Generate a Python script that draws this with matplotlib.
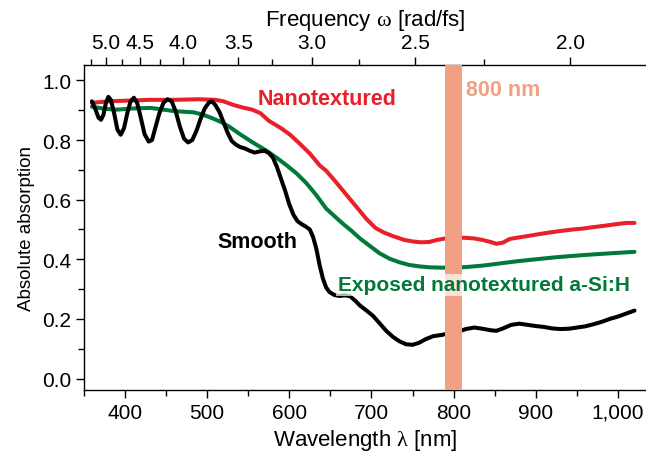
import numpy as np
import matplotlib
matplotlib.use("Agg")
import matplotlib.pyplot as plt

plt.rcParams['font.family'] = ['Liberation Sans', 'DejaVu Sans']
plt.rcParams['mathtext.fontset'] = 'custom'
plt.rcParams['mathtext.rm'] = 'Liberation Serif'

# Smooth a-Si:H (black)
smooth_wl = [360, 364, 368, 371, 374, 377, 380, 383, 387, 391, 395, 399, 403, 407, 411, 415,
             419, 424, 429, 433, 437, 442, 447, 452, 457, 462, 467, 472, 477, 482, 487, 492,
             497, 502, 506, 510, 515, 520, 525, 530, 535, 540, 546, 552, 558, 564, 570, 575,
             580, 585, 590, 595, 600, 605, 610, 615, 620, 625, 629, 633, 637, 641, 645, 649,
             655, 661, 668, 674, 680, 686, 694, 702, 710, 718, 726, 734, 742, 750, 758, 766,
             775, 785, 795, 805, 815, 825, 835, 845, 852, 860, 870, 880, 890, 900, 910, 920,
             930, 940, 950, 960, 970, 980, 990, 1000, 1010, 1020]
smooth_abs = [0.93, 0.905, 0.875, 0.868, 0.885, 0.925, 0.945, 0.935, 0.89, 0.835, 0.818, 0.84,
              0.89, 0.93, 0.942, 0.925, 0.88, 0.82, 0.795, 0.80, 0.84, 0.89, 0.925, 0.937,
              0.93, 0.895, 0.845, 0.805, 0.792, 0.80, 0.83, 0.87, 0.905, 0.925, 0.93, 0.918,
              0.895, 0.86, 0.825, 0.797, 0.785, 0.777, 0.772, 0.764, 0.758, 0.762, 0.764, 0.757,
              0.742, 0.71, 0.67, 0.63, 0.585, 0.55, 0.528, 0.518, 0.51, 0.50, 0.475, 0.435,
              0.38, 0.335, 0.305, 0.29, 0.28, 0.277, 0.279, 0.276, 0.262, 0.245, 0.228, 0.21,
              0.185, 0.16, 0.14, 0.125, 0.115, 0.113, 0.12, 0.132, 0.142, 0.146, 0.152, 0.157,
              0.166, 0.171, 0.167, 0.162, 0.16, 0.168, 0.18, 0.184, 0.18, 0.176, 0.173, 0.168,
              0.166, 0.167, 0.171, 0.175, 0.182, 0.19, 0.2, 0.208, 0.218, 0.228]

# Nanotextured (red)
nano_wl = [360, 380, 400, 430, 460, 490, 510, 520, 532, 545, 555, 565, 575, 590, 601, 612,
           625, 637, 645, 655, 670, 682, 694, 705, 715, 726, 740, 750, 760, 770, 780, 790,
           803, 815, 825, 835, 845, 852, 860, 868, 876, 890, 905, 917, 930, 945, 957, 970,
           985, 998, 1010, 1020]
nano_abs = [0.925, 0.93, 0.932, 0.935, 0.935, 0.937, 0.935, 0.93, 0.918, 0.908, 0.902, 0.89,
            0.865, 0.84, 0.818, 0.79, 0.755, 0.715, 0.697, 0.665, 0.615, 0.575, 0.535, 0.505,
            0.49, 0.478, 0.465, 0.46, 0.457, 0.458, 0.465, 0.47, 0.473, 0.472, 0.47, 0.465,
            0.458, 0.452, 0.456, 0.468, 0.472, 0.478, 0.485, 0.49, 0.495, 0.5, 0.503, 0.508,
            0.513, 0.518, 0.522, 0.522]

# Exposed nanotextured a-Si:H (green)
exp_wl = [360, 375, 390, 410, 431, 445, 460, 484, 495, 504, 516, 527, 540, 555, 572, 585,
          597, 609, 621, 633, 645, 655, 665, 676, 686, 698, 710, 722, 734, 746, 759, 771,
          785, 800, 815, 836, 856, 876, 900, 925, 957, 990, 1020]
exp_abs = [0.912, 0.905, 0.902, 0.906, 0.908, 0.903, 0.897, 0.893, 0.885, 0.876, 0.862, 0.845,
           0.82, 0.793, 0.765, 0.74, 0.715, 0.688, 0.655, 0.615, 0.57, 0.545, 0.52, 0.495,
           0.47, 0.445, 0.42, 0.402, 0.39, 0.381, 0.376, 0.373, 0.372, 0.372, 0.374, 0.379,
           0.386, 0.393, 0.4, 0.407, 0.414, 0.42, 0.425]

freq_major = [5.0, 4.5, 4.0, 3.5, 3.0, 2.5, 2.0]
freq_minor = [5.25, 4.75, 4.25, 3.75, 3.25, 2.75, 2.25]
band = (790, 810)

red = '#e8202a'
green = '#00793a'
salmon = '#f2a083'

fig = plt.figure(figsize=(6.46, 4.56), dpi=100)
ax = fig.add_axes([0.1296, 0.1425, 0.8704, 0.7135])

ax.plot(nano_wl, nano_abs, color=red, lw=2.9, solid_capstyle='round')
ax.plot(exp_wl, exp_abs, color=green, lw=2.9, solid_capstyle='round')
ax.plot(smooth_wl, smooth_abs, color='black', lw=2.9, solid_capstyle='round')
ax.axvspan(band[0], band[1], color=salmon, lw=0, zorder=3)

ax.set_xlim(350, 1034)
ax.set_ylim(-0.0386, 1.053)
ax.set_xticks(np.arange(400, 1001, 100))
ax.set_xticklabels(['400', '500', '600', '700', '800', '900', '1,000'])
ax.set_xticks(np.arange(350, 1034, 50), minor=True)
ax.set_yticks(np.arange(0, 1.01, 0.2))
ax.set_yticklabels(['0.0', '0.2', '0.4', '0.6', '0.8', '1.0'])
ax.set_yticks(np.arange(0.1, 1.0, 0.2), minor=True)
ax.tick_params(which='major', length=6, width=1, labelsize=15, direction='out', pad=3)
ax.tick_params(which='minor', length=4, width=1, direction='out')
ax.spines['right'].set_visible(False)
ax.spines['top'].set_visible(False)
for s in ['left', 'bottom']:
    ax.spines[s].set_linewidth(1)

ax.set_xlabel(r'Wavelength $\mathrm{\lambda}$ [nm]', fontsize=16, labelpad=4)
ax.set_ylabel('Absolute absorption', fontsize=13.5, labelpad=5)

top = ax.secondary_xaxis('top', functions=(lambda x: 1883.65 / x, lambda w: 1883.65 / w))
top.set_xticks(freq_major)
top.set_xticklabels(['%.1f' % f for f in freq_major])
top.set_xticks(freq_minor, minor=True)
top.tick_params(which='major', length=6, width=1, labelsize=15, pad=3)
top.tick_params(which='minor', length=4, width=1)
top.spines['top'].set_linewidth(1)
top.set_xlabel(r'Frequency $\mathrm{\omega}$ [rad/fs]', fontsize=16, labelpad=6)

ax.text(562, 0.94, 'Nanotextured', color=red, fontsize=15.5, fontweight='bold', va='center', zorder=5)
ax.text(815, 0.97, '800 nm', color=salmon, fontsize=15.5, fontweight='bold', va='center', zorder=5)
ax.text(513, 0.46, 'Smooth', color='black', fontsize=15.5, fontweight='bold', va='center', zorder=5)
ax.text(659, 0.315, 'Exposed nanotextured a-Si:H', color=green, fontsize=15, fontweight='bold',
        va='center', zorder=5,
        bbox=dict(facecolor='white', edgecolor='none', alpha=0.7, pad=1))

fig.savefig('out.png', dpi=100)
